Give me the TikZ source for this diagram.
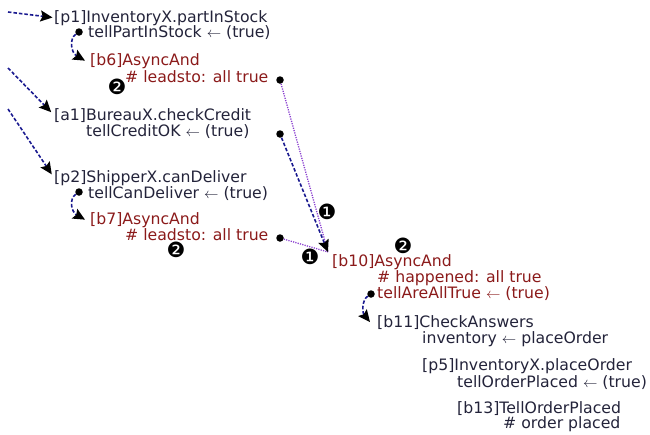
\documentclass[tikz,border=0pt]{standalone}
\usepackage{fontspec}
\setmainfont{DejaVu Sans}
\usetikzlibrary{arrows.meta}
\definecolor{ink}{HTML}{23233A}
\definecolor{darkred}{HTML}{8B1A1A}
\definecolor{navy}{HTML}{1A1A90}
\definecolor{violet}{HTML}{8A3FCF}
\tikzset{
  txt/.style={anchor=base west, inner sep=0pt, text=ink, font=\fontsize{15.7}{17}\selectfont},
  rtxt/.style={txt, text=darkred},
  pin/.style={circle, fill=black, inner sep=0pt, minimum size=7.5pt},
  badge/.style={inner sep=0pt, font=\fontsize{21}{21}\selectfont},
  flow/.style={navy, line width=1.6pt, dash pattern=on 3.5pt off 2pt,
    -{Stealth[black,length=12pt,width=11pt,inset=2pt]}},
  hint/.style={violet, line width=1.3pt, dash pattern=on 1.2pt off 1.2pt},
}
\begin{document}
\begin{tikzpicture}[x=1pt,y=-1pt]
\useasboundingbox (0,0) rectangle (650,434);

% activity texts
\node[txt]  (p1a)  at (54,22)   {[p1]InventoryX.partInStock};
\node[txt]  (p1b)  at (88,37)   {tellPartInStock $\leftarrow$ (true)};
\node[rtxt] (b6a)  at (90,65)   {[b6]AsyncAnd};
\node[rtxt] (b6b)  at (125,82)  {\# leadsto: all true};
\node[txt]  (a1a)  at (54,120)  {[a1]BureauX.checkCredit};
\node[txt]  (a1b)  at (86,136)  {tellCreditOK $\leftarrow$ (true)};
\node[txt]  (p2a)  at (54,182)  {[p2]ShipperX.canDeliver};
\node[txt]  (p2b)  at (88,198)  {tellCanDeliver $\leftarrow$ (true)};
\node[rtxt] (b7a)  at (90,224)  {[b7]AsyncAnd};
\node[rtxt] (b7b)  at (125,240) {\# leadsto: all true};
\node[rtxt] (b10a) at (332,266) {[b10]AsyncAnd};
\node[rtxt] (b10b) at (377,282) {\# happened: all true};
\node[rtxt] (b10c) at (377,298) {tellAreAllTrue $\leftarrow$ (true)};
\node[txt]  (b11a) at (377,327) {[b11]CheckAnswers};
\node[txt]  (b11b) at (422,343) {inventory $\leftarrow$ placeOrder};
\node[txt]  (p5a)  at (422,370) {[p5]InventoryX.placeOrder};
\node[txt]  (p5b)  at (457,387) {tellOrderPlaced $\leftarrow$ (true)};
\node[txt]  (b13a) at (457,413) {[b13]TellOrderPlaced};
\node[txt]  (b13b) at (503,428) {\# order placed};

% outlet pins
\node[pin] (p1dot)  at (79,32)   {};
\node[pin] (b6dot)  at (280,80)  {};
\node[pin] (a1dot)  at (280,134) {};
\node[pin] (p2dot)  at (79,192)  {};
\node[pin] (b7dot)  at (280,238) {};
\node[pin] (b10dot) at (371,294) {};

% step badges
\node[badge] (n6)   at (117,87)  {❷};
\node[badge] (n7)   at (176,250) {❷};
\node[badge] (n10)  at (403,246) {❷};
\node[badge] (m1)   at (327,212) {❶};
\node[badge] (m2)   at (310,257) {❶};

% free ends
\coordinate (in1) at (8,12);
\coordinate (in2) at (8,68);
\coordinate (in3) at (8,109);
\coordinate (b10in) at (328,252);

% incoming requests
\draw[flow, shorten >=1.5pt] (in1) -- (p1a.west);
\draw[flow, shorten >=4pt] (in2) -- (a1a.west);
\draw[flow, shorten >=4pt] (in3) -- (p2a.west);

% replies into the joins
\draw[flow] (p1dot) .. controls +(-10,7) and +(-14,-8) .. ([xshift=-5pt]b6a.west);
\draw[flow] (p2dot) .. controls +(-10,7) and +(-14,-8) .. ([xshift=-5pt]b7a.west);
\draw[flow] (b10dot) .. controls +(-9,6) and +(-8,-10) .. ([xshift=-7pt]b11a.west);

\draw[hint] (b6dot) -- (b10in);
\draw[hint] (b7dot) -- (b10in);
\draw[flow] (a1dot) -- (b10in);
\end{tikzpicture}
\end{document}
